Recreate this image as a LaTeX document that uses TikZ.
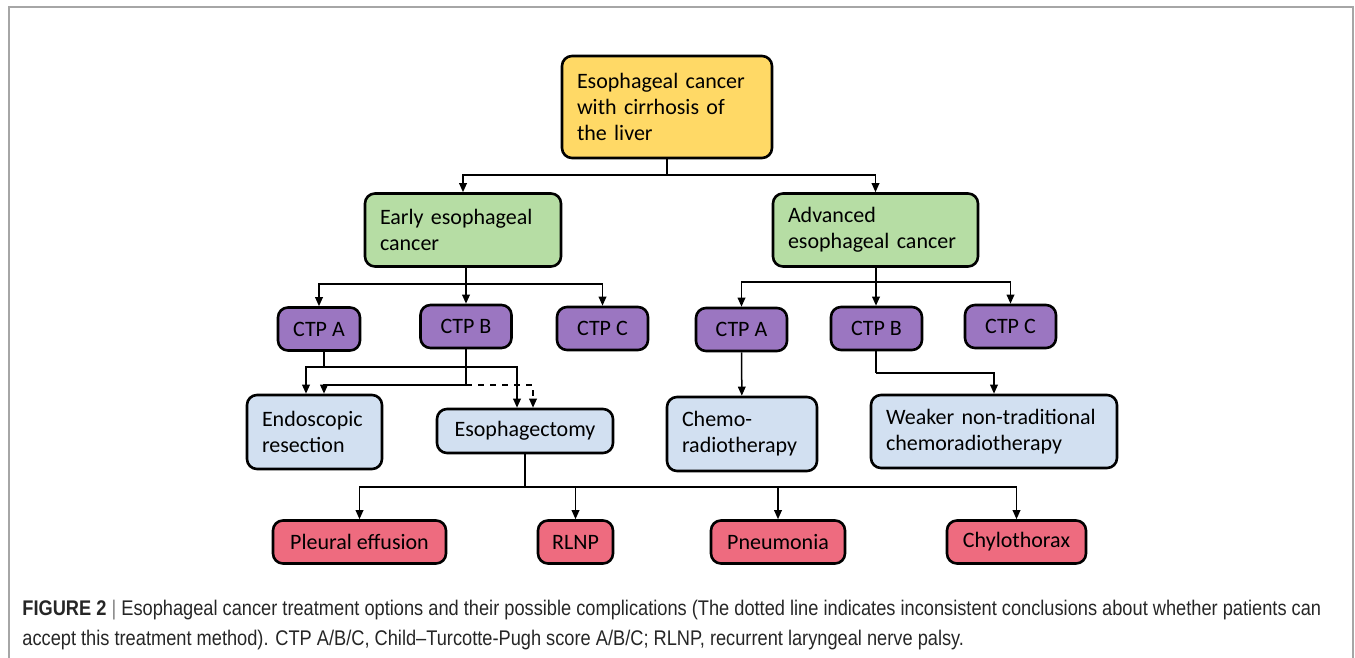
\documentclass[tikz,border=0pt]{standalone}
\usepackage{fontspec}
\setmainfont{Carlito}
\newfontfamily\capfont[FakeStretch=0.86]{Liberation Sans}
\usetikzlibrary{arrows.meta,positioning,calc}

\definecolor{rootyellow}{HTML}{FFD966}
\definecolor{stagegreen}{HTML}{B6DDA4}
\definecolor{ctppurple}{HTML}{9B76C1}
\definecolor{therapyblue}{HTML}{D2E0F1}
\definecolor{riskred}{HTML}{EE6B7F}
\definecolor{framegray}{HTML}{A6A6A6}

\tikzset{
  box/.style={draw=black, line width=1.3pt, rounded corners=5pt, inner xsep=7.5pt, inner ysep=0pt,
    font=\fontsize{11}{13}\selectfont, align=left},
  rootbox/.style={box, fill=rootyellow},
  stagebox/.style={box, fill=stagegreen},
  ctpbox/.style={box, fill=ctppurple, align=center, inner xsep=0pt, minimum width=45.5pt, minimum height=21.5pt},
  therapybox/.style={box, fill=therapyblue},
  riskbox/.style={box, fill=riskred, align=center, inner xsep=0pt, minimum height=21.5pt},
  link/.style={line width=0.75pt},
  arr/.style={link, -{Triangle[length=4.5pt,width=3.8pt]}}
}

\begin{document}
\begin{tikzpicture}[x=0.5pt, y=-0.5pt]
  \useasboundingbox (0,0) rectangle (1355,658);
  \draw[framegray, line width=0.8pt] (9,658) -- (9,7) -- (1353,7) -- (1353,658);

  % Define nodes
  \node[rootbox, text width=90pt, minimum height=51pt] (root) at (667,107)
    {Esophageal cancer\\with cirrhosis of\\the liver};
  \node[stagebox, text width=83pt, minimum height=36.5pt] (early) at (463,230)
    {Early esophageal\\cancer};
  \node[stagebox, text width=87.5pt, minimum height=36.5pt] (adv) at (875.5,230)
    {Advanced\\esophageal cancer};

  \node[ctpbox, minimum width=41pt] (ctpa1) at (319,329) {CTP A};
  \node[ctpbox] (ctpb1) at (466,326.5) {CTP B};
  \node[ctpbox] (ctpc1) at (602.5,328.5) {CTP C};
  \node[ctpbox] (ctpa2) at (741.5,329.5) {CTP A};
  \node[ctpbox] (ctpb2) at (876.5,328.5) {CTP B};
  \node[ctpbox] (ctpc2) at (1010.5,326.5) {CTP C};

  \node[therapybox, text width=52.5pt, minimum height=37pt] (endo) at (314.5,432)
    {Endoscopic\\resection};
  \node[therapybox, inner xsep=0pt, minimum width=88pt, minimum height=22pt, align=center] (esoph) at (525,431)
    {Esophagectomy};
  \node[therapybox, text width=60pt, minimum height=37pt] (chemo) at (742,434)
    {Chemo-\\radiotherapy};
  \node[therapybox, text width=108pt, minimum height=36.5pt] (weak) at (994,431.5)
    {Weaker non-traditional\\chemoradiotherapy};

  \node[riskbox, minimum width=86.5pt] (pleural) at (359.5,542) {Pleural effusion};
  \node[riskbox, minimum width=37.5pt] (rlnp) at (575.5,542) {RLNP};
  \node[riskbox, minimum width=67pt] (pneu) at (778,542) {Pneumonia};
  \node[riskbox, minimum width=69.5pt] (chylo) at (1016.5,542) {Chylothorax};

  % Junctions
  \coordinate (jroot) at (667,175);
  \coordinate (jearly) at (466,284);
  \coordinate (jadv) at (876,282);
  \coordinate (ja1) at (324,367);
  \coordinate (jb1) at (466,385);
  \coordinate (jb2) at (876,373);
  \coordinate (jesoph) at (525,487);

  % Draw edges
  \draw[link] (root) -- (jroot);
  \draw[arr] (jroot) -| (early.north);
  \draw[arr] (jroot) -| (adv.north);

  \draw[link] (early.south -| jearly) -- (jearly);
  \draw[arr] (jearly) -| (ctpa1.north);
  \draw[arr] (jearly) -- (ctpb1.north -| jearly);
  \draw[arr] (jearly) -| (ctpc1.north);

  \draw[link] (ctpa1.south -| ja1) -- (ja1);
  \draw[arr] (ja1) -| ([xshift=-4.25pt]endo.north);
  \draw[arr] (ja1) -| ([xshift=-4pt]esoph.north);
  \draw[link] (ctpb1.south -| jb1) -- (jb1);
  \draw[arr] (jb1) -| ([xshift=4.75pt]endo.north);
  \draw[arr, dashed] (jb1) -| ([xshift=4pt]esoph.north);

  \draw[link] (adv.south -| jadv) -- (jadv);
  \draw[arr] (jadv) -| (ctpa2.north);
  \draw[arr] (jadv) -- (ctpb2.north -| jadv);
  \draw[arr] (jadv) -| (ctpc2.north);

  \draw[arr] (ctpa2) -- (chemo);
  \draw[link] (ctpb2.south -| jb2) -- (jb2);
  \draw[arr] (jb2) -| (weak.north);

  \draw[link] (esoph) -- (jesoph);
  \foreach \risk in {pleural, rlnp, pneu, chylo}
    \draw[arr] (jesoph) -| (\risk.north);

  % Caption
  \node[anchor=base west, inner sep=0pt, font=\capfont\fontsize{10.6}{12}\selectfont, text=black!85] (cap1) at (22,615)
    {\textbf{FIGURE 2} {\color{black!50}|} Esophageal cancer treatment options and their possible complications (The dotted line indicates inconsistent conclusions about whether patients can};
  \node[anchor=base west, inner sep=0pt, font=\capfont\fontsize{10.6}{12}\selectfont, text=black!85] (cap2) at (22,645)
    {accept this treatment method). CTP A/B/C, Child–Turcotte-Pugh score A/B/C; RLNP, recurrent laryngeal nerve palsy.};
\end{tikzpicture}
\end{document}
